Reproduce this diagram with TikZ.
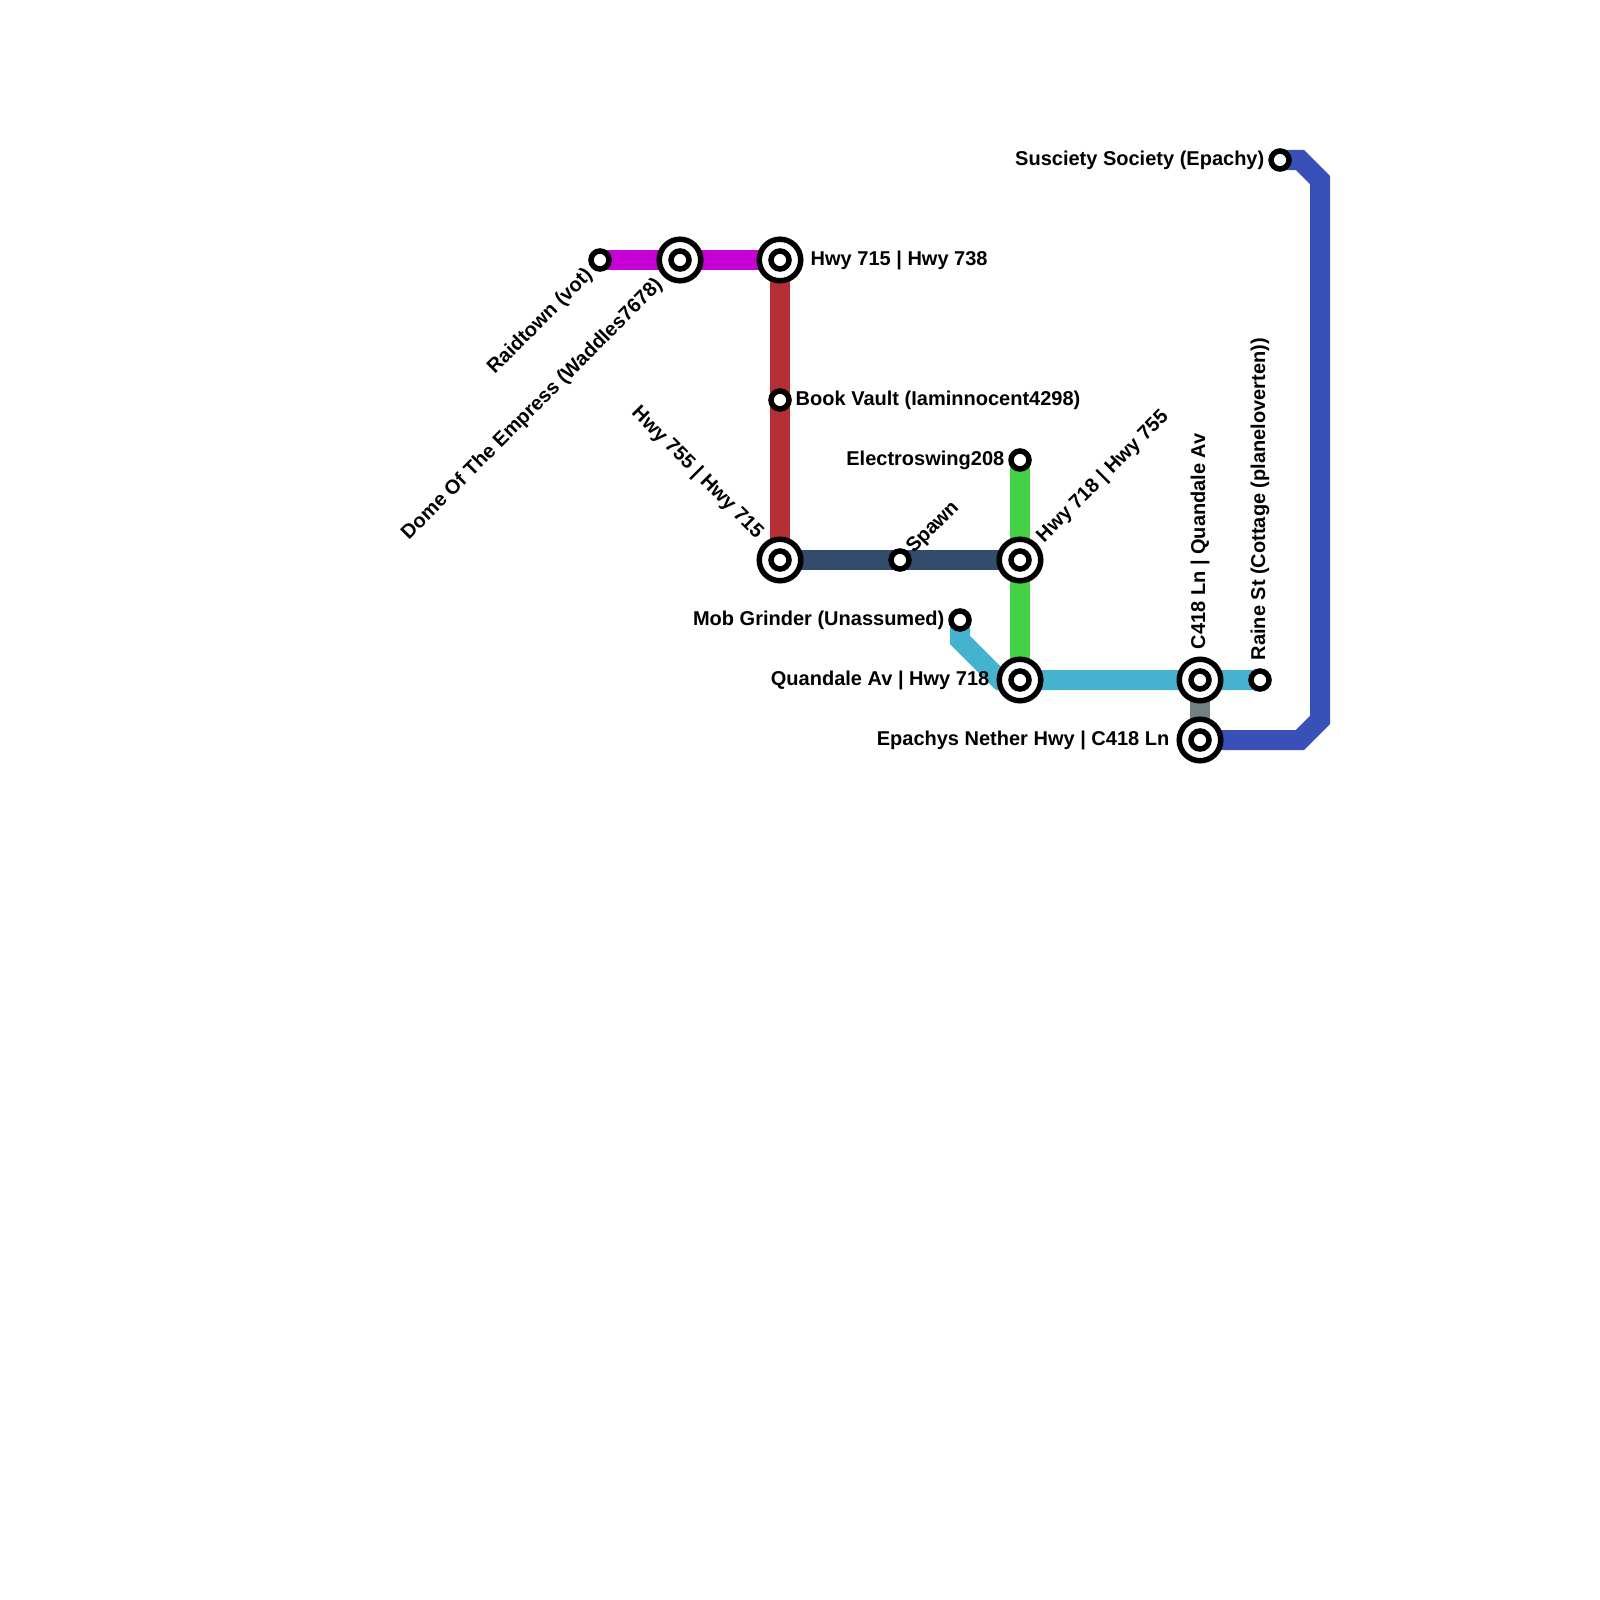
\documentclass[tikz,border=0pt]{standalone}
\usepackage{fontspec}
\setmainfont{Liberation Sans}
\usetikzlibrary{backgrounds}
\definecolor{linepink}{RGB}{199,0,214}
\definecolor{linered}{RGB}{181,48,52}
\definecolor{linenavy}{RGB}{52,75,107}
\definecolor{linegreen}{RGB}{69,209,69}
\definecolor{linecyan}{RGB}{69,179,207}
\definecolor{linegrey}{RGB}{112,128,133}
\definecolor{lineblue}{RGB}{56,80,184}

\begin{document}
\begin{tikzpicture}[
  x=0.01cm, y=-0.01cm,
  halt/.style={circle, draw=black, fill=white, line width=0.055cm, minimum size=0.18cm, inner sep=0pt},
  hub/.style={circle, draw=black, fill=white, line width=0.055cm, minimum size=0.415cm, inner sep=0pt,
    path picture={\draw[black, line width=0.055cm] (path picture bounding box.center) circle (0.09cm);}},
  route/.style={line width=0.2cm, line join=miter},
  tag/.style={font=\fontsize{5.69pt}{7pt}\selectfont\bfseries, inner sep=0pt, text=black}
]
  \useasboundingbox (0,0) rectangle (1600,1600);

  \node[halt] (raidtown) at (600,260) {};
  \node[hub] (dome) at (680,260) {};
  \node[hub] (hwyA) at (780,260) {};
  \node[halt] (vault) at (780,400) {};
  \node[hub] (hwyB) at (780,560) {};
  \node[halt] (spawn) at (900,560) {};
  \node[hub] (hwyC) at (1020,560) {};
  \node[halt] (electro) at (1020,460) {};
  \node[halt] (grinder) at (960,620) {};
  \node[hub] (quandale) at (1020,680) {};
  \node[hub] (laneA) at (1200,680) {};
  \node[halt] (raine) at (1260,680) {};
  \node[hub] (nether) at (1200,740) {};
  \node[halt] (susciety) at (1280,160) {};

  \coordinate (bendA) at (960,640);
  \coordinate (bendB) at (1000,680);
  \coordinate (cornerA) at (1300,160);
  \coordinate (cornerB) at (1320,180);
  \coordinate (cornerC) at (1320,720);
  \coordinate (cornerD) at (1300,740);

  \begin{scope}[on background layer]
    \draw[route, linepink] (raidtown.center) -- (dome.center) -- (hwyA.center);
    \draw[route, linered] (hwyA.center) -- (vault.center) -- (hwyB.center);
    \draw[route, linenavy] (hwyB.center) -- (spawn.center) -- (hwyC.center);
    \draw[route, linegreen] (electro.center) -- (hwyC.center) -- (quandale.center);
    \draw[route, linecyan] (grinder.center) -- (bendA) -- (bendB) -- (quandale.center) -- (laneA.center) -- (raine.center);
    \draw[route, linegrey] (laneA.center) -- (nether.center);
    \draw[route, lineblue] (susciety.center) -- (cornerA) -- (cornerB) -- (cornerC) -- (cornerD) -- (nether.center);
  \end{scope}

  \node[tag, anchor=east, rotate=45] (raidtownlabel) at (590,272) {Raidtown (vot)};
  \node[tag, anchor=east, rotate=45] (domelabel) at (660,282) {Dome Of The Empress (Waddles7678)};
  \node[tag, anchor=west] (hwyAlabel) at (810,260) {Hwy 715 | Hwy 738};
  \node[tag, anchor=west] (vaultlabel) at (795,400) {Book Vault (Iaminnocent4298)};
  \node[tag, anchor=east, rotate=-45] (hwyBlabel) at (760,536) {Hwy 755 | Hwy 715};
  \node[tag, anchor=west, rotate=45] (spawnlabel) at (910,551) {Spawn};
  \node[tag, anchor=west, rotate=45] (hwyClabel) at (1040,540) {Hwy 718 | Hwy 755};
  \node[tag, anchor=east] (electrolabel) at (1005,460) {Electroswing208};
  \node[tag, anchor=east] (grinderlabel) at (945,620) {Mob Grinder (Unassumed)};
  \node[tag, anchor=east] (quandalelabel) at (990,680) {Quandale Av | Hwy 718};
  \node[tag, anchor=west, rotate=90] (laneAlabel) at (1200,650) {C418 Ln | Quandale Av};
  \node[tag, anchor=west, rotate=90] (rainelabel) at (1260,661) {Raine St (Cottage (planeloverten))};
  \node[tag, anchor=east] (netherlabel) at (1170,740) {Epachys Nether Hwy | C418 Ln};
  \node[tag, anchor=east] (suscietylabel) at (1265,160) {Susciety Society (Epachy)};
\end{tikzpicture}
\end{document}
